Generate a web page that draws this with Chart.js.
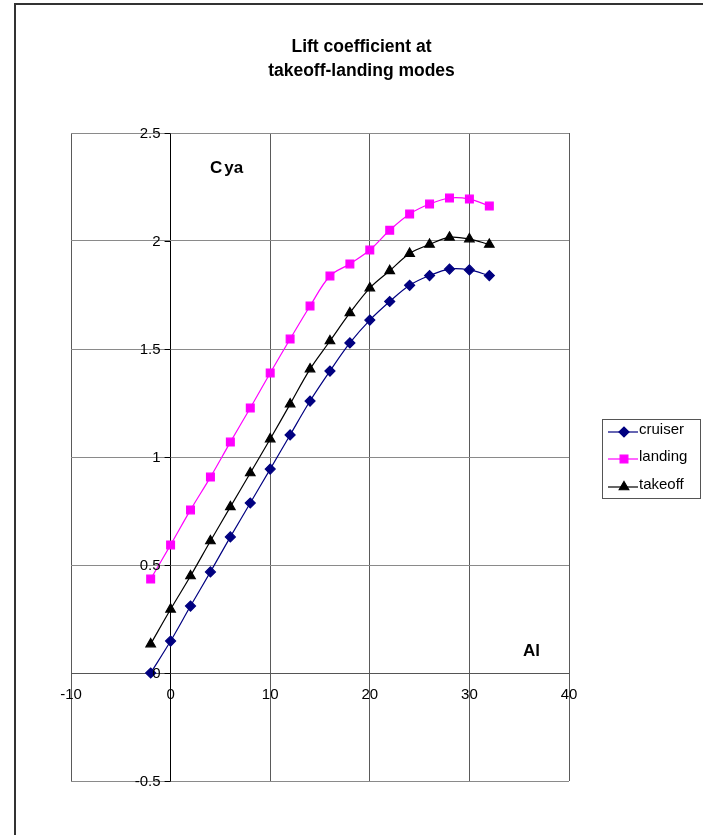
<!DOCTYPE html>
<html>
<head>
<meta charset="utf-8">
<title>Lift coefficient at takeoff-landing modes</title>
<script src="https://cdn.jsdelivr.net/npm/chart.js@4.4.1/dist/chart.umd.min.js"></script>
<style>
    body { margin: 0; background: #fff; font-family: Arial, "Liberation Sans", sans-serif; }
    #wrap { position: relative; width: 703px; height: 835px; overflow: hidden; }
    #frame { position: absolute; left: 14px; top: 3px; width: 900px; height: 1000px; border: 2px solid #333; }
    #chart { position: absolute; left: 0; top: 0; }
    .title { position: absolute; left: 0; top: 34px; width: 723px; text-align: center;
             font-weight: bold; font-size: 17.5px; line-height: 24px; color: #000; }
    .axis-name { position: absolute; font-weight: bold; font-size: 17px; color: #000; line-height: 20px; }
</style>
</head>
<body>
<div id="wrap">
    <div id="frame"></div>
    <canvas id="chart" width="703" height="835"></canvas>
    <div class="title">Lift coefficient at<br>takeoff-landing modes</div>
    <div class="axis-name" style="left:210px;top:158px;">C<span style="margin-left:2px">ya</span></div>
    <div class="axis-name" style="left:523px;top:641px;">Al</div>
</div>
<script>
// angle of attack, degrees
const alphaValues = [-2, 0, 2, 4, 6, 8, 10, 12, 14, 16, 18, 20, 22, 24, 26, 28, 30, 32];

const cruiserValues = [0.00, 0.148, 0.31, 0.468, 0.63, 0.787, 0.944, 1.102, 1.259, 1.398,
                       1.528, 1.634, 1.72, 1.795, 1.84, 1.87, 1.866, 1.84];
const landingValues = [0.435, 0.593, 0.755, 0.907, 1.069, 1.227, 1.389, 1.546, 1.699, 1.838,
                       1.894, 1.958, 2.05, 2.125, 2.171, 2.199, 2.194, 2.162];
const takeoffValues = [0.134, 0.295, 0.449, 0.611, 0.769, 0.926, 1.083, 1.245, 1.407, 1.537,
                       1.667, 1.782, 1.862, 1.942, 1.984, 2.017, 2.009, 1.984];

const xTicks = [-10, 0, 10, 20, 30, 40];
const yTicks = [-0.5, 0, 0.5, 1, 1.5, 2, 2.5];

const toPoints = ys => ys.map((y, i) => ({ x: alphaValues[i], y }));

// tick labels sit on the zero axes, like the spreadsheet chart
const crossAxes = {
    id: 'crossAxes',
    afterDraw(chart) {
        const { ctx, scales: { x, y } } = chart;
        const x0 = x.getPixelForValue(0);
        const y0 = y.getPixelForValue(0);
        ctx.save();
        ctx.fillStyle = '#000';
        ctx.strokeStyle = '#000';
        ctx.lineWidth = 1;
        ctx.font = '15px Arial, "Liberation Sans", sans-serif';

        ctx.textAlign = 'right';
        ctx.textBaseline = 'middle';
        y.ticks.forEach(t => {
            const py = y.getPixelForValue(t.value);
            ctx.beginPath();
            ctx.moveTo(x0 - 6, Math.round(py) + 0.5);
            ctx.lineTo(x0, Math.round(py) + 0.5);
            ctx.stroke();
            ctx.fillText(String(t.value), x0 - 10, py + 1);
        });

        ctx.textAlign = 'center';
        x.ticks.forEach(t => {
            ctx.fillText(String(t.value), x.getPixelForValue(t.value), y0 + 22);
        });
        ctx.restore();
    }
};

// legend box: line + marker + name
const lineLegend = {
    id: 'lineLegend',
    afterDraw(chart) {
        const ctx = chart.ctx;
        const box = { left: 602, top: 419, width: 98, height: 79 };
        ctx.save();
        ctx.fillStyle = '#fff';
        ctx.fillRect(box.left, box.top, box.width, box.height);
        ctx.strokeStyle = '#555';
        ctx.lineWidth = 1;
        ctx.strokeRect(box.left + 0.5, box.top + 0.5, box.width, box.height);

        const rows = [432, 459, 487];
        chart.data.datasets.forEach((ds, i) => {
            const ly = rows[i];
            ctx.strokeStyle = ds.borderColor;
            ctx.fillStyle = ds.borderColor;
            ctx.lineWidth = 1.2;
            ctx.beginPath();
            ctx.moveTo(608, ly);
            ctx.lineTo(638, ly);
            ctx.stroke();
            Chart.helpers.drawPoint(ctx, {
                pointStyle: ds.pointStyle,
                radius: ds.pointRadius,
                borderWidth: 1,
                rotation: 0
            }, 624, ly);
            ctx.fillStyle = '#000';
            ctx.font = '15px Arial, "Liberation Sans", sans-serif';
            ctx.textAlign = 'left';
            ctx.textBaseline = 'middle';
            ctx.fillText(ds.label, 639, ly - 2);
        });
        ctx.restore();
    }
};

function makeSet(label, values, color, style, radius) {
    return {
        label,
        data: toPoints(values),
        borderColor: color,
        backgroundColor: color,
        pointBackgroundColor: color,
        pointBorderColor: color,
        pointStyle: style,
        pointRadius: radius,
        borderWidth: 1.2,
        tension: 0.35,
        fill: false
    };
}

new Chart(document.getElementById('chart'), {
    type: 'line',
    data: {
        datasets: [
            makeSet('cruiser', cruiserValues, '#000080', 'rectRot', 5),
            makeSet('landing', landingValues, '#ff00ff', 'rect', 5.5),
            makeSet('takeoff', takeoffValues, '#000000', 'triangle', 5.5)
        ]
    },
    options: {
        responsive: false,
        animation: false,
        devicePixelRatio: 1,
        layout: { padding: { left: 71, right: 134, top: 133, bottom: 54 } },
        plugins: { legend: { display: false }, title: { display: false }, tooltip: { enabled: false } },
        scales: {
            x: {
                type: 'linear',
                min: -10, max: 40,
                afterBuildTicks: s => { s.ticks = xTicks.map(v => ({ value: v })); },
                afterFit: s => { s.height = 0; },
                ticks: { display: false },
                grid: {
                    drawTicks: false,
                    color: c => c.tick && c.tick.value === 0 ? '#000' : '#5a5a5a',
                    lineWidth: 1
                },
                border: { display: false }
            },
            y: {
                type: 'linear',
                min: -0.5, max: 2.5,
                afterBuildTicks: s => { s.ticks = yTicks.map(v => ({ value: v })); },
                afterFit: s => { s.width = 0; },
                ticks: { display: false },
                grid: {
                    drawTicks: false,
                    color: c => c.tick && c.tick.value === 0 ? '#555' : '#8a8a8a',
                    lineWidth: 1
                },
                border: { display: false }
            }
        }
    },
    plugins: [crossAxes, lineLegend]
});
</script>
</body>
</html>
